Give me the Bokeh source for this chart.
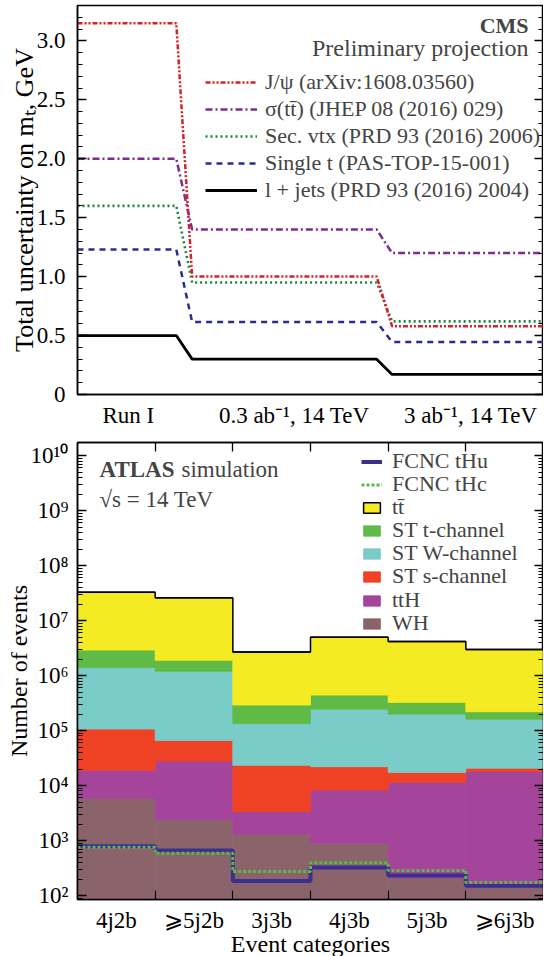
import numpy as np
from bokeh.plotting import figure
from bokeh.layouts import column
from bokeh.models import (Range1d, LinearAxis, LogAxis, FixedTicker, SingleIntervalTicker,
                          CustomJSTickFormatter, Legend, LegendItem, Label, ColumnDataSource)
from bokeh.embed import file_html
from bokeh.resources import INLINE

FONT = "Liberation Serif"

# ---------------- top panel: CMS projection (total uncertainty on m_t, GeV) ----------------
stages = ["Run I", "0.3 ab⁻¹, 14 TeV", "3 ab⁻¹, 14 TeV"]
jpsi = [3.15, 1.00, 0.58]
sigma_tt = [2.00, 1.40, 1.20]
sec_vtx = [1.60, 0.95, 0.62]
single_t = [1.23, 0.615, 0.445]
l_jets = [0.50, 0.30, 0.17]
top_labels = [
    "J/ψ (arXiv:1608.03560)",
    "σ(tt̄) (JHEP 08 (2016) 029)",
    "Sec. vtx (PRD 93 (2016) 2006)",
    "Single t (PAS-TOP-15-001)",
    "l + jets (PRD 93 (2016) 2004)",
]

# ---------------- bottom panel: ATLAS simulation (number of events) ----------------
categories = ["4j2b", "⩾5j2b", "3j3b", "4j3b", "5j3b", "⩾6j3b"]
wh = [5900, 2400, 1300, 900, 210, 140]
tth = [13100, 25600, 2100, 7400, 11300, 18000]
st_s = [88000, 38000, 20100, 13800, 5900, 2700]
st_w = [1300000, 1134000, 111500, 224000, 183000, 141000]
st_t = [1510000, 700000, 157000, 197000, 126000, 59000]
ttbar = [29800000, 24100000, 2410000, 4560000, 3850000, 2780000]
fcnc_thu = [790, 660, 184, 324, 233, 152]
fcnc_thc = [760, 590, 274, 398, 288, 173]
process_labels = ["WH", "ttH", "ST s-channel", "ST W-channel", "ST t-channel", "tt̄"]

# ---------------- layout constants ----------------
STAGE_X = [0.109, 0.465, 0.844]                  # positions of stage labels (fraction of width)
STEP_X = [0.0, 0.212, 0.246, 0.642, 0.675, 1.0]  # plateau / transition edges

BLANK = CustomJSTickFormatter(code="return '';")


def style_axis(ax, tick_in=9, minor_in=5):
    ax.axis_line_color = "black"
    ax.axis_line_width = 1.5
    ax.major_tick_line_color = "black"
    ax.major_tick_line_width = 1.3
    ax.minor_tick_line_color = "black"
    ax.minor_tick_line_width = 1.1
    ax.major_tick_in = tick_in
    ax.major_tick_out = 0
    ax.minor_tick_in = minor_in
    ax.minor_tick_out = 0
    ax.major_label_text_font = FONT
    ax.major_label_text_font_size = "23px"
    ax.major_label_text_color = "black"
    ax.axis_label_text_font = FONT
    ax.axis_label_text_font_size = "24px"
    ax.axis_label_text_font_style = "normal"
    ax.axis_label_text_color = "black"


def hidden_axis(ax):
    ax.formatter = BLANK
    ax.major_label_standoff = 0
    ax.major_label_text_font_size = "0px"


# ================= top figure =================
p1 = figure(frame_width=466, frame_height=389, x_range=Range1d(0, 1), y_range=Range1d(0, 3.3),
            output_backend="svg", toolbar_location=None,
            min_border_left=77, min_border_right=0, min_border_top=5, min_border_bottom=34)
p1.xgrid.visible = False
p1.ygrid.visible = False
p1.outline_line_color = "black"
p1.outline_line_width = 1.5
p1.outline_line_alpha = 1

series = [jpsi, sigma_tt, sec_vtx, single_t, l_jets]
styles = [
    dict(color="#D92027", dash="5 2 2 2 2 2", width=2.5),
    dict(color="#7B2C8E", dash="7 3 2 3", width=2.5),
    dict(color="#1B8540", dash="2 3", width=2.6),
    dict(color="#2B2C8C", dash="6 5", width=2.5),
    dict(color="black", dash="solid", width=2.8),
]
renderers = [None] * 5
for i in reversed(range(5)):
    v = series[i]
    ys = [v[0], v[0], v[1], v[1], v[2], v[2]]
    st = styles[i]
    renderers[i] = p1.line(STEP_X, ys, line_color=st["color"], line_dash=st["dash"],
                           line_width=st["width"])

style_axis(p1.yaxis[0], tick_in=9, minor_in=5)
p1.yaxis[0].ticker = SingleIntervalTicker(interval=0.5, num_minor_ticks=5)
p1.yaxis[0].formatter = CustomJSTickFormatter(
    code="return Math.abs(tick) < 1e-9 ? '0' : tick.toFixed(1);")
p1.yaxis[0].major_label_standoff = 12
p1.yaxis[0].axis_label = "Total uncertainty on mₜ, GeV"
p1.yaxis[0].axis_label_text_font_size = "26px"
p1.yaxis[0].axis_label_standoff = -5

style_axis(p1.xaxis[0], tick_in=0, minor_in=0)
p1.xaxis[0].ticker = FixedTicker(ticks=STAGE_X, minor_ticks=[])
p1.xaxis[0].formatter = CustomJSTickFormatter(
    args=dict(xs=STAGE_X, labels=stages),
    code="const i = xs.findIndex(v => Math.abs(v - tick) < 1e-6); return i >= 0 ? labels[i] : '';")
p1.xaxis[0].major_label_standoff = 8

r1 = LinearAxis(ticker=SingleIntervalTicker(interval=0.5, num_minor_ticks=5))
style_axis(r1, tick_in=9, minor_in=5)
hidden_axis(r1)
p1.add_layout(r1, "right")

leg1 = Legend(items=[LegendItem(label=top_labels[i], renderers=[renderers[i]]) for i in range(5)],
              location=(128, 191), glyph_width=52, glyph_height=20, label_standoff=8,
              spacing=1, padding=0, margin=0, border_line_alpha=0, background_fill_alpha=0,
              label_text_font=FONT, label_text_font_size="22px", label_height=20)
p1.add_layout(leg1)

p1.add_layout(Label(x=0.968, y=3.13, text="CMS", text_font=FONT, text_font_style="bold",
                    text_font_size="22px", text_align="right", text_baseline="middle"))
p1.add_layout(Label(x=0.968, y=2.943, text="Preliminary projection", text_font=FONT,
                    text_font_size="24px", text_align="right", text_baseline="middle"))

# ================= bottom figure =================
FRAME2_H = 457
p2 = figure(frame_width=466, frame_height=FRAME2_H, x_range=Range1d(0, 6),
            y_range=Range1d(10 ** 1.93, 10 ** 10.24), y_axis_type="log",
            output_backend="svg", toolbar_location=None,
            min_border_left=77, min_border_right=0, min_border_top=12, min_border_bottom=58)
p2.xgrid.visible = False
p2.ygrid.visible = False
p2.outline_line_color = "black"
p2.outline_line_width = 1.5
p2.outline_line_alpha = 1

procs = np.array([wh, tth, st_s, st_w, st_t, ttbar], dtype=float)
tops = np.cumsum(procs, axis=0)
bottoms = np.vstack([np.ones(len(categories)), tops[:-1]])
left = np.arange(len(categories), dtype=float)
src = dict(left=left, right=left + 1)
for i in range(len(procs)):
    src[f"b{i}"] = bottoms[i]
    src[f"t{i}"] = tops[i]
source = ColumnDataSource(src)

colors = ["#8B636B", "#A4449A", "#EF4123", "#7ACCC8", "#5FBA46", "#F4EB22"]
quads = []
for i in range(len(procs)):
    quads.append(p2.quad(left="left", right="right", bottom=f"b{i}", top=f"t{i}", source=source,
                         fill_color=colors[i], line_color=colors[i], line_width=0.8))

edges = np.arange(len(categories) + 1, dtype=float)
step_x = np.repeat(edges, 2)[1:-1]
p2.line(step_x, np.repeat(tops[-1], 2), line_color="black", line_width=1.5)
# zero-height boxes on the top of the stack: black top edge, and the legend key for tt̄
tt_key = p2.quad(left="left", right="right", bottom="t5", top="t5", source=source,
                 fill_color=colors[5], line_color="black", line_width=1.5)
thu = p2.line(step_x, np.repeat(np.array(fcnc_thu, dtype=float), 2), line_color="#3B2F8F",
              line_width=4)
thc = p2.line(step_x, np.repeat(np.array(fcnc_thc, dtype=float), 2), line_color="#5CB947",
              line_width=3, line_dash="3 2")

decades = [10.0 ** k for k in range(2, 11)]
minors = [m * 10.0 ** k for k in range(1, 11) for m in range(2, 10)]
sup_code = """
const sup = {'0':'⁰','1':'¹','2':'²','3':'³','4':'⁴','5':'⁵','6':'⁶','7':'⁷','8':'⁸','9':'⁹','-':'⁻'};
const e = Math.round(Math.log10(tick));
return '10' + String(e).split('').map(c => sup[c]).join('');
"""
style_axis(p2.yaxis[0], tick_in=9, minor_in=5)
p2.yaxis[0].ticker = FixedTicker(ticks=decades, minor_ticks=minors)
p2.yaxis[0].formatter = CustomJSTickFormatter(code=sup_code)
p2.yaxis[0].major_label_standoff = 9
p2.yaxis[0].axis_label = "Number of events"
p2.yaxis[0].axis_label_standoff = -4

centers = list(left + 0.5)
style_axis(p2.xaxis[0], tick_in=0, minor_in=9)
p2.xaxis[0].ticker = FixedTicker(ticks=centers, minor_ticks=list(edges[1:-1]))
p2.xaxis[0].formatter = CustomJSTickFormatter(
    args=dict(labels=categories), code="return labels[Math.floor(tick)] || '';")
p2.xaxis[0].major_label_standoff = 8
p2.xaxis[0].axis_label = "Event categories"
p2.xaxis[0].axis_label_standoff = -5

a2 = LinearAxis(ticker=FixedTicker(ticks=list(edges[1:-1]), minor_ticks=[]))
style_axis(a2, tick_in=9, minor_in=0)
hidden_axis(a2)
p2.add_layout(a2, "above")

r2 = LogAxis(ticker=FixedTicker(ticks=decades, minor_ticks=minors))
style_axis(r2, tick_in=9, minor_in=5)
hidden_axis(r2)
p2.add_layout(r2, "right")

leg_items = [
    LegendItem(label="FCNC tHu", renderers=[thu]),
    LegendItem(label="FCNC tHc", renderers=[thc]),
    LegendItem(label=process_labels[5], renderers=[tt_key]),
    LegendItem(label=process_labels[4], renderers=[quads[4]]),
    LegendItem(label=process_labels[3], renderers=[quads[3]]),
    LegendItem(label=process_labels[2], renderers=[quads[2]]),
    LegendItem(label=process_labels[1], renderers=[quads[1]]),
    LegendItem(label=process_labels[0], renderers=[quads[0]]),
]
# one legend box per row so that rows sit 23 px apart
ROW0_FROM_TOP = 19     # centre of first row below the frame top (px)
ROW_STEP = 23.1
ITEM_HALF = 13
for k, item in enumerate(leg_items):
    y_k = FRAME2_H - (ROW0_FROM_TOP + ROW_STEP * k + ITEM_HALF)
    lg = Legend(items=[item], location=(284, int(round(y_k))), glyph_width=21, glyph_height=13,
                label_standoff=10, spacing=0, padding=0, margin=0, border_line_alpha=0,
                background_fill_alpha=0, label_text_font=FONT, label_text_font_size="22px",
                label_height=20)
    p2.add_layout(lg)

p2.add_layout(Label(x=0.283, y=10 ** 9.75, text="ATLAS", text_font=FONT, text_font_style="bold",
                    text_font_size="23px", text_baseline="middle"))
p2.add_layout(Label(x=0.283, y=10 ** 9.75, x_offset=82, text="simulation", text_font=FONT,
                    text_font_size="23px", text_baseline="middle"))
p2.add_layout(Label(x=0.283, y=10 ** 9.204, text="√s = 14 TeV", text_font=FONT,
                    text_font_size="23px", text_baseline="middle"))

layout = column(p1, p2)
open("out.html", "w").write(file_html(layout, INLINE))
